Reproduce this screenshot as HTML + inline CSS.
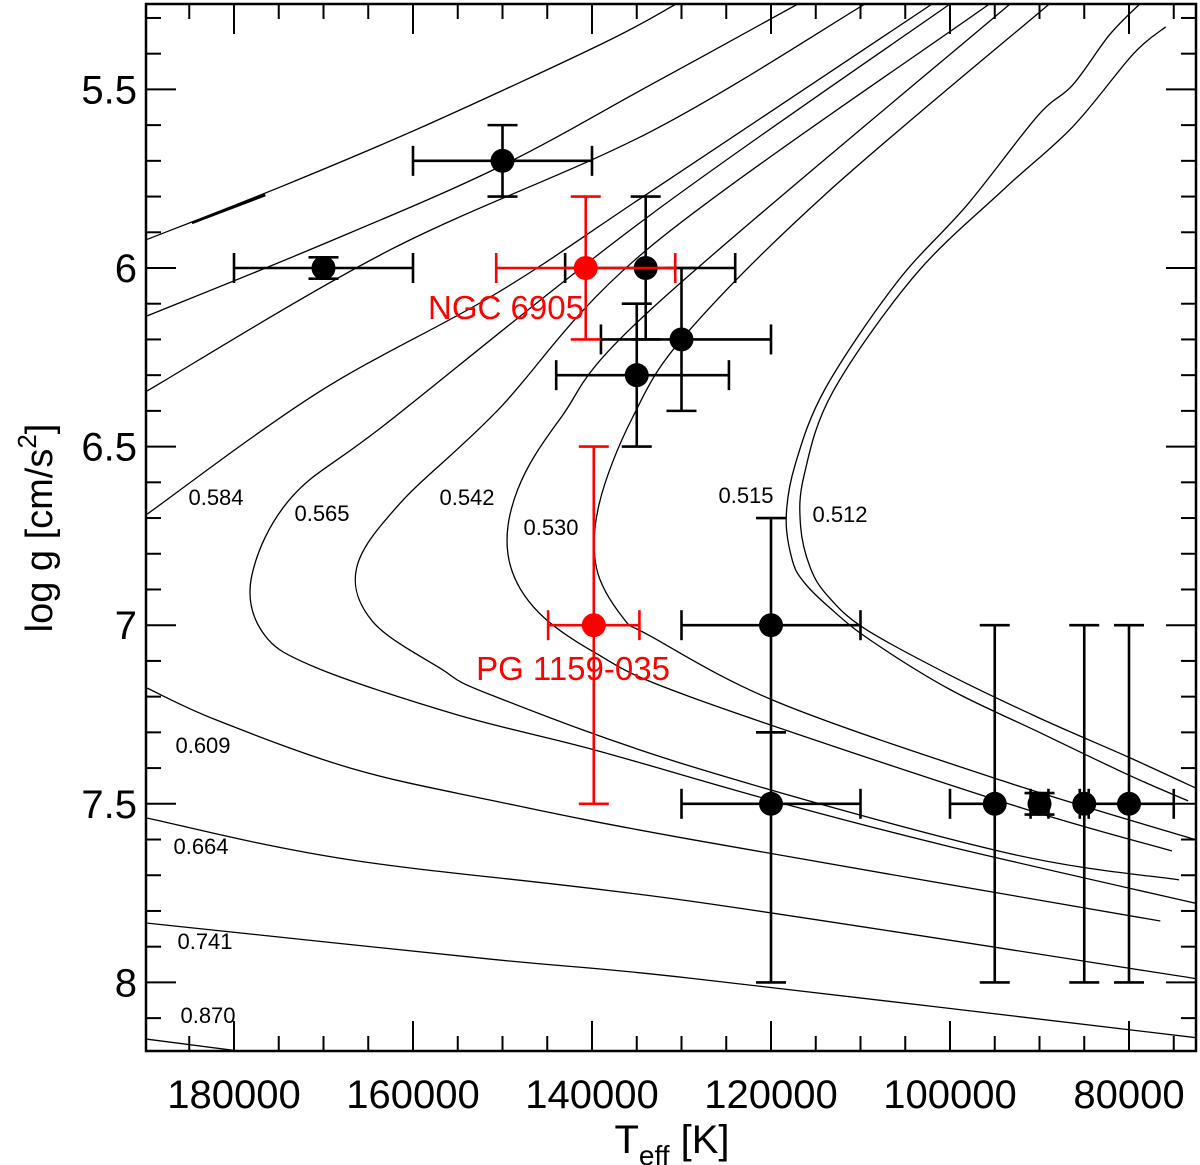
<!DOCTYPE html>
<html><head><meta charset="utf-8"><style>
html,body{margin:0;padding:0;background:#fff}
svg{display:block;font-family:"Liberation Sans",Arial,sans-serif}
</style></head><body>
<svg id="chart" width="1200" height="1165" viewBox="0 0 1200 1165">
<defs><clipPath id="pc"><rect x="146" y="4" width="1050" height="1047"/></clipPath></defs>
<g id="tracks" clip-path="url(#pc)"></g>
<g id="pts"></g>
<g id="axes"></g>
<g id="labels"></g>
</svg>
<script>
// Track names and values: T in kK, log g
const trackNames = ["0.870-top","0.741-upper","0.664-upper","0.609-upper","0.584","0.565","0.542","0.530","0.52x","0.515","0.512","0.609","0.664","0.741","0.870"];
const trackT = [
 [184.7,176.5],
 [189.9,174.5,158.5,138.7,130.6],
 [189.7,170.5,150.6,133.5,117.0],
 [189.7,162.6,133.5,109.5],
 [189.7,170.5,150.6,133.5,102.0],
 [100.0,133.5,162.6,173.5,178.0,176.8,171.0,155.2,139.6,120.0,100.0,72.1],
 [95.6,133.5,150.6,161.5,166.3,164.5,157.0,151.3,129.1,94.1,74.4],
 [93.3,133.5,143.5,148.3,149.4,146.5,139.6,129.1,94.1,75.2],
 [88.9,113.9,129.6,135.5,139.2,139.5,136.5,133.5,119.3,94.1,72.1],
 [78.8,82.2,86.3,90.2,98.1,105.9,113.9,117.3,118.3,117.6,116.3,113.5,109.0,100.0,90.0,80.0,73.4],
 [75.9,79.5,86.3,94.0,103.9,113.1,116.3,116.7,115.6,113.6,109.5,100.0,90.0,80.0,72.1],
 [189.7,182.0,167.0,151.3,129.1,76.5],
 [189.7,167.0,129.1,72.1],
 [189.7,151.3,129.1,72.1],
 [189.7,163.1]
];
const trackG = [
 [5.874,5.796],
 [5.922,5.770,5.600,5.370,5.261],
 [6.134,5.938,5.720,5.488,5.261],
 [6.344,5.950,5.619,5.261],
 [6.689,6.347,6.070,5.787,5.261],
 [5.261,5.852,6.428,6.640,6.860,7.020,7.117,7.250,7.350,7.490,7.620,7.781],
 [5.261,5.941,6.400,6.660,6.840,6.990,7.120,7.195,7.394,7.635,7.713],
 [5.261,6.118,6.420,6.620,6.800,6.950,7.078,7.200,7.495,7.632],
 [5.261,5.793,6.188,6.420,6.660,6.840,6.980,7.030,7.215,7.436,7.604],
 [5.261,5.348,5.488,5.574,5.824,6.039,6.336,6.550,6.700,6.820,6.880,6.950,7.040,7.180,7.300,7.420,7.492],
 [5.325,5.400,5.605,5.780,6.020,6.347,6.580,6.720,6.840,6.920,7.010,7.140,7.260,7.370,7.461],
 [7.176,7.265,7.400,7.490,7.599,7.828],
 [7.540,7.657,7.772,7.991],
 [7.834,7.935,7.988,8.156],
 [8.159,8.245]
];
// Stars (black): T in K, log g, errors
const starT  = [170000,150000,134000,130000,135000,120000,120000,95000,90000,85000,80000];
const starG  = [6.0,5.7,6.0,6.2,6.3,7.0,7.5,7.5,7.5,7.5,7.5];
const starTlo= [180000,160000,143000,139000,144000,130000,130000,100000,91000,85500,85000];
const starThi= [160000,140000,124000,120000,124700,110000,110000,95000,89000,84500,75000];
const starGlo= [5.97,5.6,5.8,6.0,6.1,6.7,7.3,7.0,7.47,7.0,7.0];
const starGhi= [6.03,5.8,6.2,6.4,6.5,7.3,8.0,8.0,7.53,8.0,8.0];
// Highlighted (red)
const redNames=["NGC 6905","PG 1159-035"];
const redT=[140700,139800], redG=[6.0,7.0];
const redTlo=[150700,144900], redThi=[130700,134700];
const redGlo=[5.8,6.5], redGhi=[6.2,7.5];
// Ticks
const xMajor=[180000,160000,140000,120000,100000,80000];
const xLabels=["180000","160000","140000","120000","100000","80000"];
const yMajor=[5.5,6,6.5,7,7.5,8];
const yLabels=["5.5","6","6.5","7","7.5","8"];
const massLabels=["0.584","0.565","0.542","0.530","0.515","0.512","0.609","0.664","0.741","0.870"];

const L=146,R=1196,T0=4,B=1051;
const X=t=>234+(180000-t)/20000*179;
const Y=g=>268+(g-6)*357.2;
const NS="http://www.w3.org/2000/svg";
function mk(tag,attrs,parent){const e=document.createElementNS(NS,tag);for(const k in attrs)e.setAttribute(k,attrs[k]);parent.appendChild(e);return e;}
const gT=document.getElementById('tracks'),gP=document.getElementById('pts'),gA=document.getElementById('axes'),gL=document.getElementById('labels');

function smooth(p){
  if(p.length<3) return "M"+p.map(q=>q.join(",")).join("L");
  let d="M"+p[0][0]+","+p[0][1];
  for(let i=0;i<p.length-1;i++){
    const p0=p[i-1]||p[i],p1=p[i],p2=p[i+1],p3=p[i+2]||p2;
    const c1=[p1[0]+(p2[0]-p0[0])/6,p1[1]+(p2[1]-p0[1])/6];
    const c2=[p2[0]-(p3[0]-p1[0])/6,p2[1]-(p3[1]-p1[1])/6];
    d+="C"+c1.join(",")+" "+c2.join(",")+" "+p2.join(",");
  }
  return d;
}
trackT.forEach((ts,i)=>{
  const pts=ts.map((t,j)=>[X(t*1000).toFixed(1),Y(trackG[i][j]).toFixed(1)].map(Number));
  const e=mk('path',{d:smooth(pts),fill:'none',stroke:'#000','stroke-width':i===0?2.5:1.3},gT);
  
  
});

function star(t,g,tlo,thi,glo,ghi,col,name){
  const grp=mk('g',{},gP);
  
  
  const x=X(t),y=Y(g),sw=2.6,c=15;
  mk('line',{x1:X(tlo),y1:y,x2:X(thi),y2:y,stroke:col,'stroke-width':sw},grp);
  mk('line',{x1:X(tlo),y1:y-c,x2:X(tlo),y2:y+c,stroke:col,'stroke-width':sw},grp);
  mk('line',{x1:X(thi),y1:y-c,x2:X(thi),y2:y+c,stroke:col,'stroke-width':sw},grp);
  mk('line',{x1:x,y1:Y(glo),x2:x,y2:Y(ghi),stroke:col,'stroke-width':sw},grp);
  mk('line',{x1:x-c,y1:Y(glo),x2:x+c,y2:Y(glo),stroke:col,'stroke-width':sw},grp);
  mk('line',{x1:x-c,y1:Y(ghi),x2:x+c,y2:Y(ghi),stroke:col,'stroke-width':sw},grp);
  mk('circle',{cx:x,cy:y,r:12,fill:col},grp);
}
starT.forEach((t,i)=>star(t,starG[i],starTlo[i],starThi[i],starGlo[i],starGhi[i],'#000','star-'+i));
redT.forEach((t,i)=>star(t,redG[i],redTlo[i],redThi[i],redGlo[i],redGhi[i],'#f00','star-'+redNames[i].toLowerCase().replace(/ /g,'-')));

// axes frame
const fr=mk('rect',{x:L,y:T0,width:R-L,height:B-T0,fill:'none',stroke:'#000','stroke-width':2.5},gA);


for(let t=185000;t>=72500;t-=5000){
  const x=X(t);const maj=xMajor.includes(t);const l=maj?30:15;
  mk('line',{x1:x,y1:B,x2:x,y2:B-l,stroke:'#000','stroke-width':2},gA);
  mk('line',{x1:x,y1:T0,x2:x,y2:T0+l,stroke:'#000','stroke-width':2},gA);
}
for(let k=53;k<=81;k++){
  const g=k/10,y=Y(g);const maj=(k%5===0);const l=maj?30:15;
  mk('line',{x1:L,y1:y,x2:L+l,y2:y,stroke:'#000','stroke-width':2},gA);
  mk('line',{x1:R,y1:y,x2:R-l,y2:y,stroke:'#000','stroke-width':2},gA);
}
xMajor.forEach((t,i)=>{
  const e=mk('text',{x:X(t),y:1108,'text-anchor':'middle','font-size':40},gA);
  e.textContent=xLabels[i];
  
  
});
yMajor.forEach((g,i)=>{
  const e=mk('text',{x:137,y:Y(g)+14,'text-anchor':'end','font-size':40},gA);
  e.textContent=yLabels[i];
  
  
});
</script>
<script>
const lab=document.getElementById('labels');
const NS2="http://www.w3.org/2000/svg";
function tx(x,y,s,sz,col,name,anchor){const e=document.createElementNS(NS2,'text');e.setAttribute('x',x);e.setAttribute('y',y);e.setAttribute('font-size',sz);e.setAttribute('fill',col);e.setAttribute('text-anchor',anchor||'middle');e.textContent=s;lab.appendChild(e);


return e;}
const mPos=[[216,505],[322,521],[467,505],[551,535],[746,503],[840,522],[203,753],[201,854],[205,949],[208,1023]];
massLabels.forEach((m,i)=>tx(mPos[i][0],mPos[i][1],m,22,'#000','mass-label-'+m));
tx(506,319,'NGC 6905',33,'#f00','label-ngc-6905');
tx(573,680,'PG 1159-035',33,'#f00','label-pg-1159-035');
const xt=tx(672,1153,'',40,'#000','x-axis-title');
xt.innerHTML='T<tspan font-size="28" dy="12">eff</tspan><tspan dy="-12"> [K]</tspan>';
const yt=tx(0,0,'',38,'#000','y-axis-title');
yt.setAttribute('transform','translate(52,528) rotate(-90)');
yt.innerHTML='log g [cm/s<tspan font-size="26" dy="-16">2</tspan><tspan dy="16">]</tspan>';
</script>
</body></html>
